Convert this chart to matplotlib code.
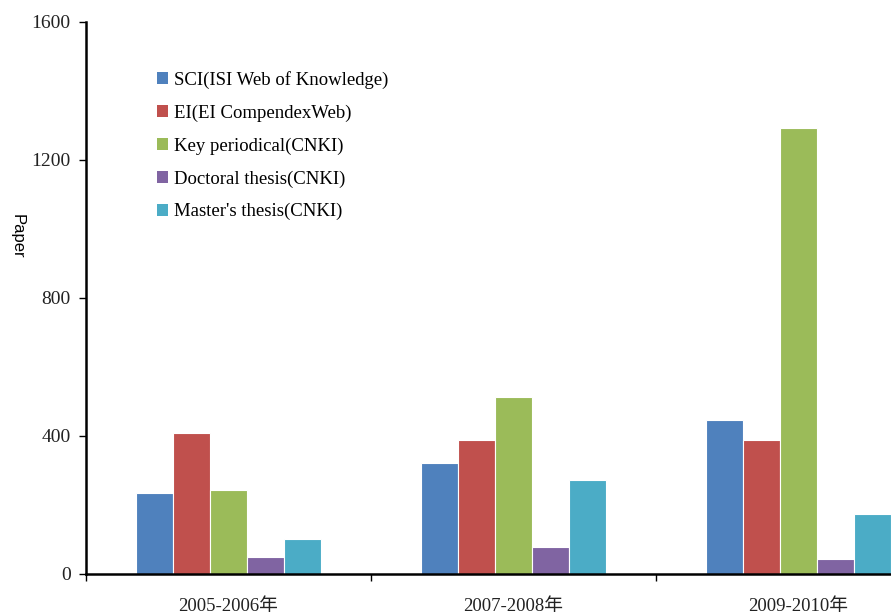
import matplotlib
matplotlib.use("Agg")
import matplotlib.pyplot as plt
import numpy as np

categories = ["2005-2006年", "2007-2008年", "2009-2010年"]
series_names = ["SCI(ISI Web of Knowledge)", "EI(EI CompendexWeb)",
                "Key periodical(CNKI)", "Doctoral thesis(CNKI)",
                "Master's thesis(CNKI)"]
sci = [235, 322, 446]
ei = [409, 388, 388]
key_periodical = [243, 513, 1293]
doctoral = [49, 78, 44]
master = [101, 272, 174]
y_ticks = [0, 400, 800, 1200, 1600]

colors = ["#4F81BD", "#C0504D", "#9BBB59", "#8064A2", "#4BACC6"]
series = [sci, ei, key_periodical, doctoral, master]

serif = ["Liberation Serif", "Noto Sans CJK SC", "DejaVu Sans"]

fig = plt.figure(figsize=(8.91, 6.13), dpi=100)
W, H = 891, 613
ax = fig.add_axes([86 / W, 1 - 574 / H, 855 / W, (574 - 22) / H])

x = np.arange(len(categories)) + 0.5
bw = 0.13
for i, (vals, name, c) in enumerate(zip(series, series_names, colors)):
    ax.bar(x + (i - 2) * bw, vals, width=bw, color=c, edgecolor="white",
           linewidth=0.8, label=name, zorder=2)

ax.set_xlim(0, 3)
ax.set_ylim(0, 1600)
ax.set_yticks(y_ticks)
ax.set_yticklabels([str(v) for v in y_ticks], fontfamily=serif, fontsize=14,
                   color="#222222")
ax.set_xticks([0, 1, 2, 3])
ax.set_xticklabels([])
ax.set_xticks(x, minor=True)
ax.set_xticklabels(categories, minor=True, fontfamily=serif, fontsize=13.5,
                   color="#222222")
ax.tick_params(axis="x", which="minor", length=0, pad=17)
ax.tick_params(axis="x", which="major", length=5, width=1, direction="out")
ax.tick_params(axis="y", length=5, width=1, direction="out", pad=6)

for s in ["top", "right"]:
    ax.spines[s].set_visible(False)
for s in ["left", "bottom"]:
    ax.spines[s].set_linewidth(1.8)
    ax.spines[s].set_color("black")

fig.text(17 / W, 1 - 236 / H, "Paper", rotation=270, ha="center", va="center",
         fontfamily="Liberation Sans", fontsize=12)

leg = ax.legend(loc="upper left", bbox_to_anchor=(157 / W, 1 - 71 / H),
                bbox_transform=fig.transFigure, frameon=False,
                prop={"family": serif, "size": 13.5}, handlelength=0.6,
                handleheight=0.6, handletextpad=0.3, labelspacing=0.83,
                borderpad=0, borderaxespad=0)
for h in leg.legend_handles:
    h.set_edgecolor("none")

fig.savefig("out.png", dpi=100)
